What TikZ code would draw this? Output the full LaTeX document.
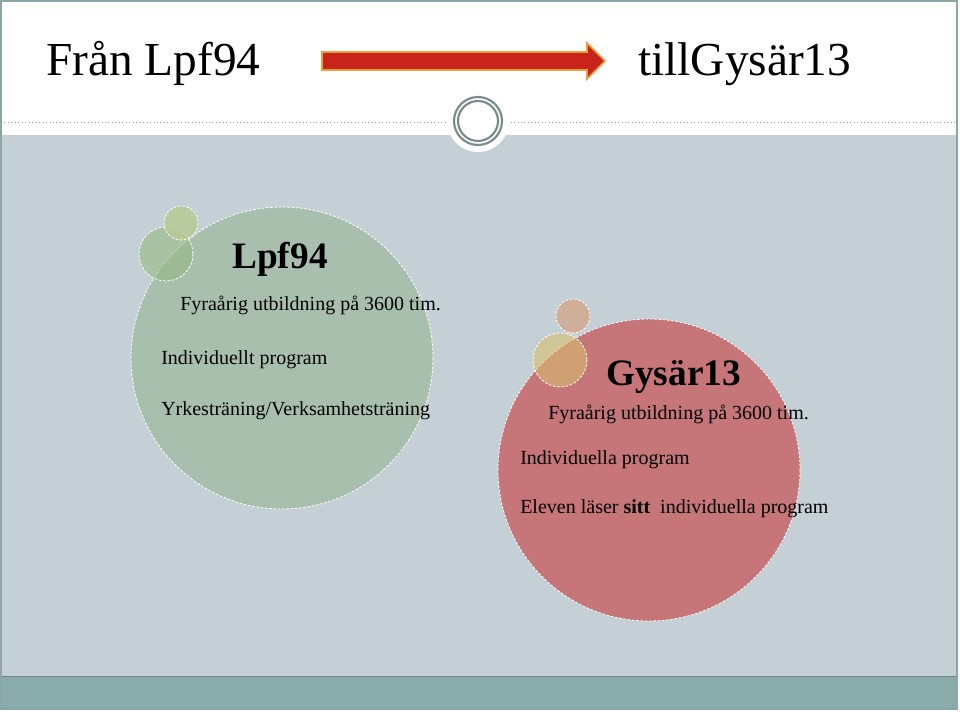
\documentclass[tikz,border=0pt]{standalone}
\usepackage{fontspec}
\setmainfont{Liberation Serif}
\definecolor{bakgrund}{RGB}{197,208,214}
\definecolor{bandfarg}{RGB}{137,172,170}
\definecolor{ramfarg}{RGB}{140,165,165}
\definecolor{ringgra}{RGB}{120,140,140}
\definecolor{pilrod}{RGB}{200,36,28}
\definecolor{pilkant}{RGB}{232,160,60}
\definecolor{gronstor}{RGB}{169,191,174}
\definecolor{gronliten}{RGB}{150,185,130}
\definecolor{gronmini}{RGB}{185,202,150}
\definecolor{rodstor}{RGB}{198,117,120}
\definecolor{gulliten}{RGB}{215,190,110}
\definecolor{brunmini}{RGB}{210,172,148}
\newcommand{\rubrikfont}{\fontsize{35.5}{40}\selectfont}
\newcommand{\namnfont}{\fontsize{28}{32}\selectfont\bfseries}
\newcommand{\brodfont}{\fontsize{15}{18}\selectfont}
\tikzset{kant/.style={draw=white, dash pattern=on 2pt off 1.2pt, line width=0.6pt},
  rad/.style={anchor=base west, inner sep=0pt}}

\begin{document}
\begin{tikzpicture}[x=0.75pt,y=-0.75pt]
\useasboundingbox (0,0) rectangle (960,712);
\fill[white] (0,0) rectangle (960,712);
% slide
\fill[bakgrund] (1,135) rectangle (957,676);
\fill[bandfarg] (1,676) rectangle (957,708);
\draw[ramfarg!80!black, line width=0.5pt] (1,676) -- (957,676);
\draw[ramfarg, line width=0.8pt] (1,1) rectangle (957,709);
\draw[gray!80, dotted, line width=0.6pt] (1,122) -- (957,122);
% emblem
\fill[white] (478,121) circle (31);
\draw[ringgra, line width=1.6pt] (478,121) circle (24);
\draw[ringgra, line width=1.6pt] (478,121) circle (20);
% rubrik
\node[rad, font=\rubrikfont] (fran) at (46,76) {Från Lpf94};
\node[rad, font=\rubrikfont] (till) at (638,76) {tillGysär13};
\draw[pilkant, line width=1.2pt, fill=pilrod]
  (322,52) -- (587,52) -- (587,43) -- (605,61) -- (587,79) -- (587,70) -- (322,70) -- cycle;
% Lpf94
\fill[gronstor] (282,358) circle (151);
\draw[kant] (282,358) circle (151);
\fill[gronliten, fill opacity=0.6] (166,254) circle (27);
\draw[kant] (166,254) circle (27);
\fill[gronmini, fill opacity=0.85] (181,223) circle (17);
\draw[kant] (181,223) circle (17);
\node[rad, font=\namnfont] (lpf) at (232,269) {Lpf94};
\node[rad, font=\brodfont] (lpfa) at (180,311) {Fyraårig utbildning på 3600 tim.};
\node[rad, font=\brodfont] (lpfb) at (161,365) {Individuellt program};
\node[rad, font=\brodfont] (lpfc) at (161,416) {Yrkesträning/Verksamhetsträning};
% Gysär13
\fill[rodstor] (649,470) circle (151);
\draw[kant] (649,470) circle (151);
\fill[gulliten, fill opacity=0.6] (560,360) circle (27);
\draw[kant] (560,360) circle (27);
\fill[brunmini, fill opacity=0.9] (573,316) circle (17);
\draw[kant] (573,316) circle (17);
\node[rad, font=\namnfont] (gys) at (606,386) {Gysär13};
\node[rad, font=\brodfont] (gysa) at (548,420) {Fyraårig utbildning på 3600 tim.};
\node[rad, font=\brodfont] (gysb) at (520,465) {Individuella program};
\node[rad, font=\brodfont] (gysc) at (520,513) {Eleven läser \textbf{sitt}\ \ individuella program};
\end{tikzpicture}
\end{document}
